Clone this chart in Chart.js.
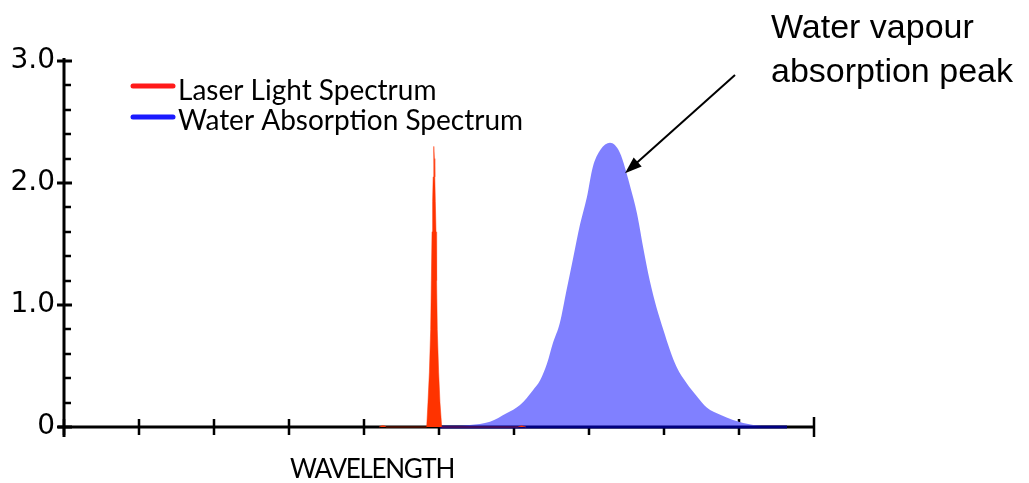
<!DOCTYPE html>
<html>
<head>
<meta charset="utf-8">
<script src="https://cdn.jsdelivr.net/npm/chart.js@4/dist/chart.umd.min.js"></script>
<style>
  html, body { margin: 0; padding: 0; background: #ffffff; }
  #wrap { width: 1029px; height: 483px; position: relative; }
</style>
</head>
<body>
<div id="wrap"><canvas id="spec" width="1029" height="483"></canvas></div>
<script>
// Wavelength axis runs over 10 arbitrary divisions; intensity / absorbance on the vertical axis.
const xTicks = [0, 1, 2, 3, 4, 5, 6, 7, 8, 9, 10];
const yMajorTicks = [0, 1, 2, 3];
const yMajorLabels = ['0', '1.0', '2.0', '3.0'];
const yMinorStep = 0.2;

// Narrow laser line
const laserX = [4.20, 4.24, 4.27, 4.30, 4.836, 4.853, 4.872, 4.889, 4.898, 4.907, 4.915, 4.922, 4.928, 4.933, 4.938, 4.944, 4.951, 4.960, 4.968, 4.977, 4.995, 5.013, 5.036, 6.05, 6.10, 6.16];
const laserY = [0.00, 0.01, 0.01, 0.00, 0.00, 0.20, 0.45, 0.80, 1.20, 1.60, 1.85, 2.05, 2.20, 2.30, 2.20, 2.05, 1.85, 1.60, 1.20, 0.80, 0.45, 0.20, 0.00, 0.00, 0.01, 0.00];

// Broad water vapour absorption band
const waterX = [5.01, 5.41, 5.68, 5.90, 6.08, 6.25, 6.35, 6.44, 6.52, 6.61, 6.70, 6.79, 6.88, 6.97, 7.05, 7.15, 7.28, 7.41, 7.55, 7.64, 7.72, 7.81, 7.90, 7.99, 8.08, 8.17, 8.30, 8.44, 8.57, 8.75, 8.92, 9.19, 9.64];
const waterY = [0.000, 0.016, 0.043, 0.112, 0.180, 0.300, 0.385, 0.520, 0.690, 0.850, 1.120, 1.390, 1.660, 1.880, 2.130, 2.270, 2.330, 2.250, 1.970, 1.750, 1.480, 1.200, 0.980, 0.800, 0.630, 0.490, 0.360, 0.250, 0.160, 0.100, 0.057, 0.016, 0.000];

// Baseline of the absorption trace
const waterBaseX = [5.01, 9.64];
const waterBaseY = [0, 0];

const seriesNames = ['Laser Light Spectrum', 'Water Absorption Spectrum'];
const xTitle = 'WAVELENGTH';
const noteLines = ['Water vapour', 'absorption peak'];
const noteTarget = { x: 7.48, y: 2.08 };

const pts = (xs, ys) => xs.map((x, i) => ({ x, y: ys[i] }));

const axesPlugin = {
  id: 'customAxes',
  beforeDatasetsDraw(chart) {
    const { ctx, scales: { x, y } } = chart;
    const x0 = x.getPixelForValue(0), x1 = x.getPixelForValue(10);
    const y0 = y.getPixelForValue(0), y1 = y.getPixelForValue(3);
    ctx.save();
    ctx.strokeStyle = '#000';
    ctx.lineCap = 'butt';
    // axis lines
    ctx.lineWidth = 3;
    ctx.beginPath();
    ctx.moveTo(x0, y1 - 3); ctx.lineTo(x0, y0 + 10);
    ctx.moveTo(x0 - 6, y0); ctx.lineTo(x1, y0);
    ctx.stroke();
    // vertical minor ticks (inside)
    ctx.lineWidth = 2.5;
    ctx.beginPath();
    for (let v = 0; v <= 3.0001; v += yMinorStep) {
      const py = Math.round(y.getPixelForValue(v));
      if (Math.abs(v - Math.round(v)) < 1e-6) continue;
      ctx.moveTo(x0, py); ctx.lineTo(x0 + 7, py);
    }
    ctx.stroke();
    // vertical major ticks (crossing)
    ctx.lineWidth = 3;
    ctx.beginPath();
    yMajorTicks.forEach(v => {
      const py = y.getPixelForValue(v);
      ctx.moveTo(x0 - 7, py); ctx.lineTo(x0 + 8, py);
    });
    ctx.stroke();
    // horizontal ticks (crossing)
    ctx.lineWidth = 2.5;
    ctx.beginPath();
    xTicks.forEach(v => {
      const px = x.getPixelForValue(v);
      const h = v === 10 ? 10 : 8;
      ctx.moveTo(px, y0 - h); ctx.lineTo(px, y0 + h);
    });
    ctx.stroke();
    ctx.restore();
  },
  afterDraw(chart) {
    const { ctx, scales: { x, y } } = chart;
    ctx.save();
    // legend
    const legendColors = ['#ff1a1a', '#1a1aff'];
    ctx.font = '28px Lato';
    ctx.textBaseline = 'alphabetic';
    ctx.textAlign = 'left';
    seriesNames.forEach((name, i) => {
      const ly = 86 + i * 31;
      ctx.strokeStyle = legendColors[i];
      ctx.lineWidth = 5;
      ctx.lineCap = 'round';
      ctx.beginPath();
      ctx.moveTo(133, ly); ctx.lineTo(173, ly);
      ctx.stroke();
      ctx.fillStyle = '#000';
      ctx.fillText(name, 178, 100 + i * 30);
    });
    // axis title
    ctx.font = '26px Lato';
    ctx.textAlign = 'center';
    ctx.letterSpacing = '-1.3px';
    ctx.fillText(xTitle, 372, 478);
    ctx.letterSpacing = '0px';
    // annotation
    ctx.font = '34px "Liberation Sans"';
    ctx.textAlign = 'left';
    ctx.fillText(noteLines[0], 771, 38);
    ctx.fillText(noteLines[1], 771, 82);
    // arrow
    const tx = x.getPixelForValue(noteTarget.x), ty = y.getPixelForValue(noteTarget.y);
    const sx = 735, sy = 75;
    const ang = Math.atan2(ty - sy, tx - sx);
    const hl = 17, hw = 6;
    ctx.strokeStyle = '#000';
    ctx.lineWidth = 2;
    ctx.lineCap = 'butt';
    ctx.beginPath();
    ctx.moveTo(sx, sy);
    ctx.lineTo(tx - Math.cos(ang) * hl * 0.8, ty - Math.sin(ang) * hl * 0.8);
    ctx.stroke();
    ctx.fillStyle = '#000';
    ctx.beginPath();
    ctx.moveTo(tx, ty);
    ctx.lineTo(tx - Math.cos(ang) * hl - Math.sin(ang) * hw, ty - Math.sin(ang) * hl + Math.cos(ang) * hw);
    ctx.lineTo(tx - Math.cos(ang) * hl + Math.sin(ang) * hw, ty - Math.sin(ang) * hl - Math.cos(ang) * hw);
    ctx.closePath();
    ctx.fill();
    ctx.restore();
  }
};

new Chart(document.getElementById('spec'), {
  type: 'line',
  data: {
    datasets: [
      {
        label: seriesNames[1],
        data: pts(waterX, waterY),
        borderWidth: 0,
        borderColor: 'rgba(0,0,0,0)',
        backgroundColor: '#8080ff',
        fill: 'origin',
        pointRadius: 0,
        cubicInterpolationMode: 'monotone',
        clip: 8,
        order: 3
      },
      {
        label: 'baseline',
        data: pts(waterBaseX, waterBaseY),
        borderWidth: 3,
        borderColor: '#000080',
        fill: false,
        pointRadius: 0,
        clip: 8,
        order: 2
      },
      {
        label: seriesNames[0],
        data: pts(laserX, laserY),
        borderWidth: 0.5,
        borderColor: '#ff3300',
        backgroundColor: '#ff3300',
        fill: 'origin',
        pointRadius: 0,
        tension: 0,
        clip: 8,
        order: 1
      }
    ]
  },
  options: {
    responsive: false,
    animation: false,
    layout: { padding: { top: 61, right: 215, left: 0, bottom: 0 } },
    plugins: { legend: { display: false }, tooltip: { enabled: false } },
    scales: {
      x: {
        type: 'linear',
        min: 0, max: 10,
        grid: { display: false, drawTicks: false },
        border: { display: false },
        ticks: { display: false },
        afterFit(s) { s.height = 56; }
      },
      y: {
        min: 0, max: 3,
        afterBuildTicks(s) { s.ticks = yMajorTicks.map(v => ({ value: v })); },
        grid: { display: false, drawTicks: false },
        border: { display: false },
        ticks: {
          padding: 9,
          color: '#000',
          font: { family: 'DejaVu Sans', size: 28 },
          callback: (v) => yMajorLabels[yMajorTicks.indexOf(v)]
        },
        afterFit(s) { s.width = 64; }
      }
    }
  },
  plugins: [axesPlugin]
});
</script>
</body>
</html>
